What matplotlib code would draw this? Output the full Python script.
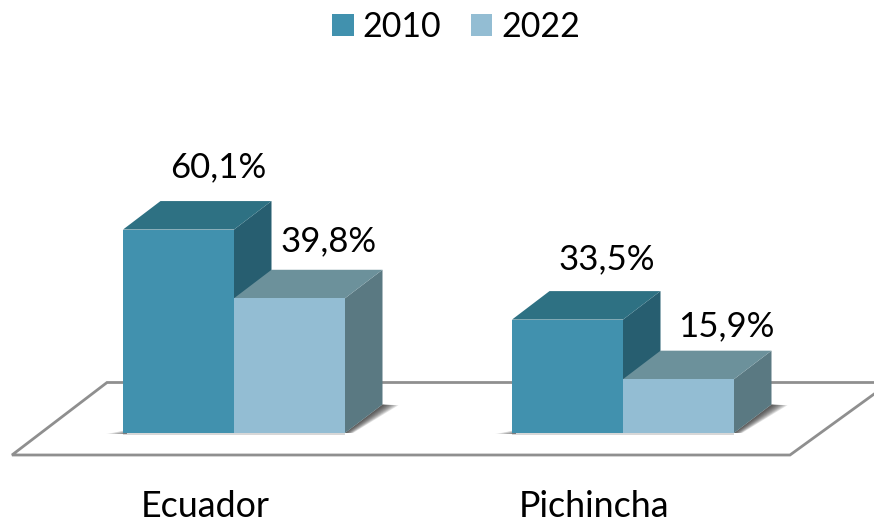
import matplotlib
matplotlib.use("Agg")
import matplotlib.pyplot as plt
from matplotlib.patches import Patch, Polygon

categories = ["Ecuador", "Pichincha"]
years = ["2010", "2022"]
values_2010 = [60.1, 33.5]
values_2022 = [39.8, 15.9]
label_2010 = ["60,1%", "33,5%"]
label_2022 = ["39,8%", "15,9%"]

W, H = 874, 522
PX_X = 389.0          # pixels per category
PX_Y = 3.385          # pixels per percentage point
X0, Y0 = 234.0, 433.0 # pixel position of first group centre / baseline

plt.rcParams["font.family"] = ["Lato", "DejaVu Sans"]
fig = plt.figure(figsize=(W / 100, H / 100), dpi=100)
ax = fig.add_axes([0, 0, 1, 1])
ax.set_xlim(-X0 / PX_X, (W - X0) / PX_X)
ax.set_ylim(-(H - Y0) / PX_Y, Y0 / PX_Y)
ax.axis("off")

bw = 111.0 / PX_X
dx = 37.5 / PX_X
dy = 28.5 / PX_Y

# floor
fx = lambda p: (p - X0) / PX_X
fy = lambda p: (Y0 - p) / PX_Y
floor = [(fx(12), fy(455)), (fx(107), fy(382.5)), (fx(890), fy(382.5)), (fx(790), fy(455))]
ax.add_patch(Polygon(floor, closed=True, fc="white", ec="#8f8f8f", lw=2.0, zorder=1, joinstyle="miter"))

series = [
    (values_2010, label_2010, -bw, "#4191AE", "#2E7183", "#275E70", [24, 22], [39.5, 39.5]),
    (values_2022, label_2022, 0.0, "#93BDD3", "#6C919B", "#5A7982", [19, 14], [39.5, 48.0]),
]

# soft shadows
n_layers = 9
for i in range(2):
    left = i - bw
    right = i + bw
    for k in range(n_layers):
        g = (k + 1) / n_layers
        ax.add_patch(Polygon(
            [(right, 0), (right + dx, dy), (right + dx + g * 16 / PX_X, dy - 0.2),
             (right + g * 8 / PX_X, 0)],
            closed=True, fc="#222222", ec="none", alpha=0.13, zorder=2))
        ax.add_patch(Polygon(
            [(left - g * 17 / PX_X, -0.15), (left + 0.01, -0.15), (left + 0.01, g * 0.9 + 0.1)],
            closed=True, fc="#222222", ec="none", alpha=0.07, zorder=2))
    ax.add_patch(Polygon([(left, -0.7), (right, -0.7), (right, 0), (left, 0)],
                         closed=True, fc="#222222", ec="none", alpha=0.18, zorder=2))

# bars
for vals, labs, off, front, top, side, gaps, shifts in series:
    for i, (v, lab, gap, sh) in enumerate(zip(vals, labs, gaps, shifts)):
        l = i + off
        r = l + bw
        ax.add_patch(Polygon([(r, 0), (r + dx, dy), (r + dx, v + dy), (r, v)],
                             closed=True, fc=side, ec="none", zorder=3))
        ax.add_patch(Polygon([(l, v), (r, v), (r + dx, v + dy), (l + dx, v + dy)],
                             closed=True, fc=top, ec="none", zorder=4))
        ax.bar(l + bw / 2, v, width=bw, color=front, edgecolor="none", zorder=5)
        ax.text(l + bw / 2 + sh / PX_X, v + dy + gap / PX_Y, lab,
                ha="center", va="baseline", fontsize=25, color="black", zorder=6)

# category labels
for i, c in enumerate(categories):
    ax.text(i - 28.5 / PX_X, fy(517), c, ha="center", va="baseline", fontsize=25.8, color="black")

handles = [Patch(fc=series[0][3], ec="none", label=years[0]),
           Patch(fc=series[1][3], ec="none", label=years[1])]
ax.legend(handles=handles, ncol=2, frameon=False, fontsize=24.5,
          loc="center", bbox_to_anchor=(456.5 / W, 1 - 27 / H), bbox_transform=fig.transFigure,
          handlelength=0.62, handleheight=0.62, handletextpad=0.27, columnspacing=0.88,
          borderpad=0, borderaxespad=0)

fig.savefig("out.png", dpi=100)
